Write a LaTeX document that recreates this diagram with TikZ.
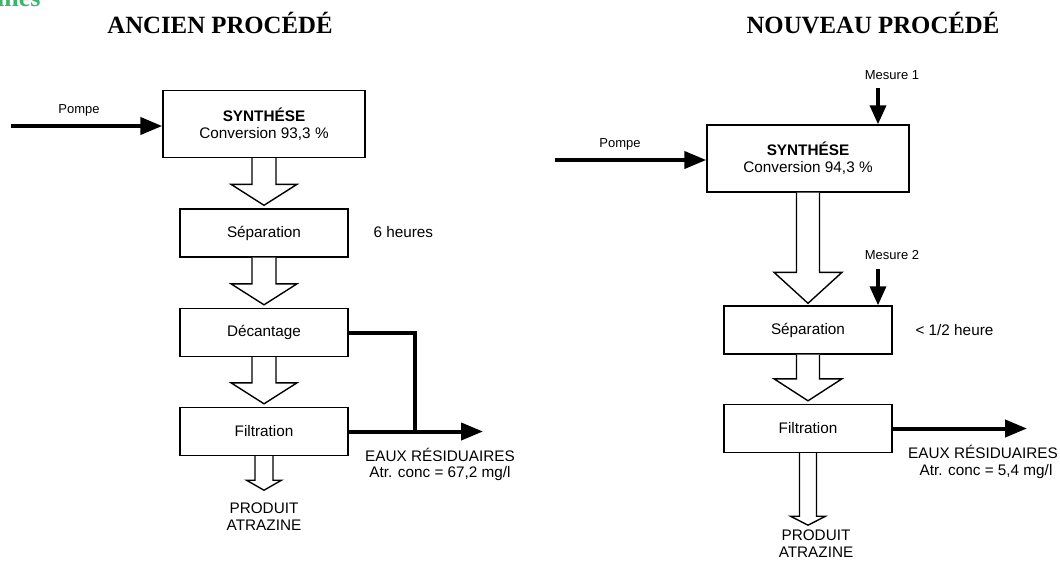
\documentclass[tikz,border=0pt]{standalone}
\usepackage{fontspec}
\setmainfont{Liberation Sans}
\newfontfamily\titlefamily{Liberation Serif}
\usetikzlibrary{arrows.meta,calc}

\newcommand\procfont{\fontsize{15.3}{17}\selectfont}
\newcommand\lblfont{\fontsize{13}{15}\selectfont}
\newcommand\headfont{\titlefamily\bfseries\fontsize{24.8}{28}\selectfont}
% hollow arrow: start, tip, half shaft, half head, head length
\newcommand\fatarrow[5]{%
  \draw[hollow] ($(#1)+(-#3,0)$) -- ($(#2)+(-#3,-#5)$) -- ($(#2)+(-#4,-#5)$) -- (#2)
    -- ($(#2)+(#4,-#5)$) -- ($(#2)+(#3,-#5)$) -- ($(#1)+(#3,0)$);}

\begin{document}
\begin{tikzpicture}[x=1pt,y=-1pt,
    procbox/.style={draw, line width=1.4pt, inner sep=0pt, font=\procfont, align=center},
    wide/.style={minimum width=202pt, minimum height=67pt},
    narrow/.style={minimum width=168pt, minimum height=48pt},
    hollow/.style={fill=white, line width=1.4pt, line join=miter},
    flow/.style={line width=4pt, -{Triangle[length=22pt,width=17pt]}},
    drain/.style={line width=4pt, line join=miter},
    measure/.style={line width=3.5pt, -{Triangle[length=19pt,width=16pt]}},
    txt/.style={font=\procfont, anchor=base},
    lbl/.style={font=\lblfont, anchor=base}]
    \definecolor{LeafGreen}{HTML}{3CB46E}
    \useasboundingbox (0,0) rectangle (1060,560);

    \node[anchor=base east, text=LeafGreen, font=\titlefamily\bfseries\fontsize{26}{28}\selectfont] (frag) at (44,6.5) {ines};
    \node[anchor=base, font=\headfont] (titleL) at (220,33) {ANCIEN PROCÉDÉ};
    \node[anchor=base, font=\headfont] (titleR) at (873,33) {NOUVEAU PROCÉDÉ};

    % ancien procede
    \node[procbox, wide] (synL) at (264,124) {\textbf{SYNTHÉSE}\\Conversion 93,3~\%};
    \node[procbox, narrow] (sepL) at (264,233) {Séparation};
    \node[procbox, narrow] (decL) at (264,332.5) {Décantage};
    \node[procbox, narrow] (filL) at (264,431.5) {Filtration};
    \foreach \src/\dst in {synL/sepL, sepL/decL, decL/filL}{%
        \coordinate (tip) at ([yshift=3pt]\dst.north);
        \fatarrow{\src.south}{tip}{12}{33}{21}
    }
    \coordinate (prodL) at ([yshift=-34pt]filL.south);
    \fatarrow{filL.south}{prodL}{9}{17.5}{10}

    \coordinate (pompeL) at (11,126);
    \draw[flow] (pompeL) -- (pompeL -| synL.west);
    \node[lbl] (pompeLtxt) at (79,113) {Pompe};
    \node[txt, anchor=base west] (dureeL) at (370,237) {6 heures};

    \coordinate (joinL) at (415,431.5);
    \coordinate (eauxL) at (483,431.5);
    \draw[drain] (decL.east) -| (joinL);
    \draw[flow] (filL.east) -- (eauxL);
    \node[txt] (eauxL1) at (440,461) {EAUX RÉSIDUAIRES};
    \node[txt] (eauxL2) at (440,477) {Atr. conc = 67,2 mg/l};
    \node[txt] (prodL1) at (264,513) {PRODUIT};
    \node[txt] (prodL2) at (264,530) {ATRAZINE};

    % nouveau procede
    \node[procbox, wide] (synR) at (808,158.5) {\textbf{SYNTHÉSE}\\Conversion 94,3~\%};
    \node[procbox, narrow] (sepR) at (808,330) {Séparation};
    \node[procbox, narrow] (filR) at (808,428.5) {Filtration};
    \coordinate (tipR1) at ([yshift=2pt]sepR.north);
    \fatarrow{synR.south}{tipR1}{11.5}{34}{31}
    \coordinate (tipR2) at ([yshift=3pt]filR.north);
    \fatarrow{sepR.south}{tipR2}{11.5}{34}{22}
    \coordinate (prodR) at ([yshift=-72pt]filR.south);
    \fatarrow{filR.south}{prodR}{8.5}{17.5}{9}

    \coordinate (pompeR) at (555,160);
    \draw[flow] (pompeR) -- (pompeR -| synR.west);
    \node[lbl] (pompeRtxt) at (620,147) {Pompe};
    \coordinate (mes1) at (878,88);
    \draw[measure] (mes1) -- (mes1 |- synR.north);
    \node[lbl] (mes1txt) at (892,79) {Mesure 1};
    \coordinate (mes2) at (878,269);
    \draw[measure] (mes2) -- (mes2 |- sepR.north);
    \node[lbl] (mes2txt) at (892,259) {Mesure 2};
    \node[txt, anchor=base west] (dureeR) at (912,335) {< 1/2 heure};

    \coordinate (eauxR) at (1027,428.5);
    \draw[flow] (filR.east) -- (eauxR);
    \node[txt] (eauxR1) at (983,458) {EAUX RÉSIDUAIRES};
    \node[txt] (eauxR2) at (986,475) {Atr. conc = 5,4 mg/l};
    \node[txt] (prodR1) at (816,540) {PRODUIT};
    \node[txt] (prodR2) at (816,557) {ATRAZINE};
\end{tikzpicture}
\end{document}
